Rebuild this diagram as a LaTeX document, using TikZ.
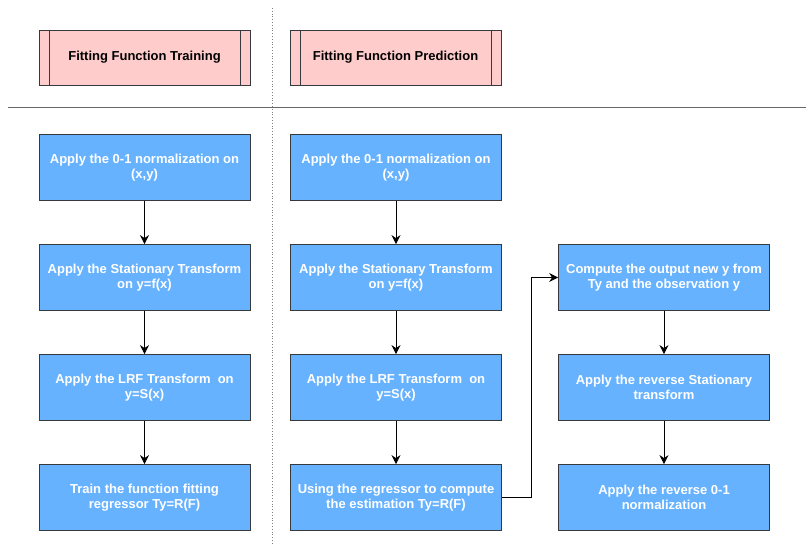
\documentclass[tikz,border=0pt]{standalone}
\usepackage{fontspec}
\setmainfont{Liberation Sans}
\usetikzlibrary{arrows.meta}

\definecolor{boxblue}{HTML}{66B2FF}
\definecolor{headpink}{HTML}{FFCCCC}
\definecolor{edgegray}{HTML}{36393D}

\begin{document}
\begin{tikzpicture}[x=1pt, y=-1pt, >={Stealth[length=9pt, width=9pt, inset=3pt]}, node distance=110pt,
	stepbox/.style={rectangle, fill=boxblue, draw=edgegray, line width=0.8pt, align=center, minimum width=211pt, minimum height=66pt, text=white, font=\fontsize{13}{15}\selectfont\bfseries},
	header/.style={rectangle, fill=headpink, draw=edgegray, line width=0.8pt, align=center, minimum width=211pt, minimum height=55pt, font=\fontsize{13}{15}\selectfont\bfseries,
		path picture={\draw[edgegray, line width=0.8pt] ([xshift=10pt]path picture bounding box.north west) -- ([xshift=10pt]path picture bounding box.south west);
			\draw[edgegray, line width=0.8pt] ([xshift=-10pt]path picture bounding box.north east) -- ([xshift=-10pt]path picture bounding box.south east);}}]
	\useasboundingbox (0,0) rectangle (806,545);

	% separators
	\coordinate (vtop) at (272,8);
	\coordinate (vbot) at (272,545);
	\coordinate (hleft) at (8,107);
	\coordinate (hright) at (806,107);
	\draw [gray, dotted, line width=0.8pt] (vtop) -- (vbot);
	\draw [gray!80!black, line width=0.9pt] (hleft) -- (hright);

	% headers
	\node[header] (train) at (144.5,57.5) {Fitting Function Training};
	\node[header] (pred) at (395.5,57.5) {Fitting Function Prediction};

	% training
	\node[stepbox] (t1) at (144.5,167.5) {Apply the 0-1 normalization on\\(x,y)};
	\node[stepbox, below of=t1] (t2) {Apply the Stationary Transform\\on y=f(x)};
	\node[stepbox, below of=t2] (t3) {Apply the LRF Transform~ on\\y=S(x)};
	\node[stepbox, below of=t3] (t4) {Train the function fitting\\regressor Ty=R(F)};

	% prediction
	\node[stepbox] (p1) at (396,167.5) {Apply the 0-1 normalization on\\(x,y)};
	\node[stepbox, below of=p1] (p2) {Apply the Stationary Transform\\on y=f(x)};
	\node[stepbox, below of=p2] (p3) {Apply the LRF Transform~ on\\y=S(x)};
	\node[stepbox, below of=p3] (p4) {Using the regressor to compute\\the estimation Ty=R(F)};
	\node[stepbox, right of=p2, xshift=158pt] (q1) {Compute the output new y from\\Ty and the observation y};
	\node[stepbox, below of=q1] (q2) {Apply the reverse Stationary\\transform};
	\node[stepbox, below of=q2] (q3) {Apply the reverse 0-1\\normalization};

	% edges
	\draw [->, line width=0.8pt] (t1) -- (t2);
	\draw [->, line width=0.8pt] (t2) -- (t3);
	\draw [->, line width=0.8pt] (t3) -- (t4);
	\draw [->, line width=0.8pt] (p1) -- (p2);
	\draw [->, line width=0.8pt] (p2) -- (p3);
	\draw [->, line width=0.8pt] (p3) -- (p4);
	\draw [->, line width=0.8pt] (p4.east) -- ++(29,0) |- (q1);
	\draw [->, line width=0.8pt] (q1) -- (q2);
	\draw [->, line width=0.8pt] (q2) -- (q3);
\end{tikzpicture}
\end{document}
